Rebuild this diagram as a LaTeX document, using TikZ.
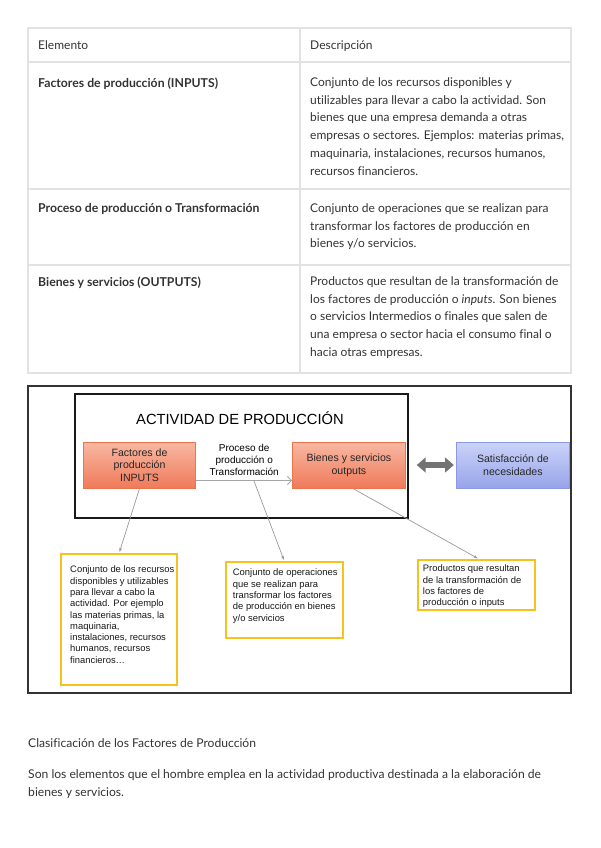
\documentclass[tikz,border=0pt]{standalone}
\usepackage{fontspec}
\setmainfont{Lato}[Ligatures=CommonOff]
\newfontfamily\arial{Liberation Sans}
\usetikzlibrary{arrows.meta,positioning}
\definecolor{texto}{HTML}{333333}
\definecolor{linea}{HTML}{E2E2E2}
\definecolor{naranja}{HTML}{E9754F}
\definecolor{naranjaA}{HTML}{F8B8A2}
\definecolor{naranjaB}{HTML}{F07A5A}
\definecolor{azul}{HTML}{8C99E0}
\definecolor{azulA}{HTML}{CBD3F8}
\definecolor{azulB}{HTML}{97A4EA}
\definecolor{amarillo}{HTML}{F5C31C}
\definecolor{conector}{HTML}{9A9A9A}

\begin{document}
\begin{tikzpicture}[
  x=0.85pt, y=-0.85pt,
  every node/.style={inner sep=0pt, anchor=north west, align=left},
  tabla/.style={draw=linea, line width=1.5pt},
  celda/.style={font=\fontsize{10.2}{15.1}\selectfont, text=texto},
  celdab/.style={celda, font=\fontsize{10.4}{15.1}\selectfont\bfseries},
  parrafo/.style={font=\fontsize{10.3}{15.3}\selectfont, text=texto},
  caja/.style={draw=naranja, line width=0.8pt, top color=naranjaA, bottom color=naranjaB,
    minimum width=95.6pt, minimum height=39.1pt, anchor=center, align=center,
    font=\arial\fontsize{9}{10.8}\selectfont, text=black!85},
  cajaazul/.style={caja, draw=azul, top color=azulA, bottom color=azulB},
  nota/.style={draw=amarillo, line width=1.6pt, fill=white},
  notatxt/.style={font=\arial\fontsize{8}{9.6}\selectfont, text=black!90},
  conector/.style={draw=conector, line width=0.6pt, shorten >=1pt, -{Stealth[length=3.5pt,width=2.6pt]}},
  >=Stealth
]
\useasboundingbox (0,0) rectangle (600,848);

\draw[tabla] (28,28) rectangle (571,373);
\draw[tabla] (300,28) -- (300,373);
\foreach \y in {62,189,265} \draw[tabla] (28,\y) -- (571,\y);

\node[celda] (encA) at (38,40.2) {Elemento};
\node[celda] (encB) at (310,40.2) {Descripción};
\node[celdab] (elemA) at (38,77.2) {Factores de producción (INPUTS)};
\node[celda] (descA) at (310,77.2) {Conjunto de los recursos disponibles y\\utilizables para llevar a cabo la actividad. Son\\bienes que una empresa demanda a otras\\empresas o sectores. Ejemplos: materias primas,\\maquinaria, instalaciones, recursos humanos,\\recursos financieros.};
\node[celdab] (elemB) at (38,203.2) {Proceso de producción o Transformación};
\node[celda] (descB) at (310,203.2) {Conjunto de operaciones que se realizan para\\transformar los factores de producción en\\bienes y/o servicios.};
\node[celdab] (elemC) at (38,276.2) {Bienes y servicios (OUTPUTS)};
\node[celda] (descC) at (310,276.2) {Productos que resultan de la transformación de\\los factores de producción o \textit{inputs}. Son bienes\\o servicios Intermedios o finales que salen de\\una empresa o sector hacia el consumo final o\\hacia otras empresas.};

\draw[line width=1.2pt, black!80] (28,386) rectangle (571,693);
\draw[line width=1.8pt, black!90] (75,394) rectangle (408,518);
\node[anchor=base, font=\arial\fontsize{12.5}{15}\selectfont] (titulo) at (240,424) {ACTIVIDAD DE PRODUCCIÓN};

\node[caja] (inputs) at (139.5,465) {Factores de\\producción\\INPUTS};
\node[caja, right=81.6pt of inputs] (outputs) {Bienes y servicios\\outputs};
\node[cajaazul, right=43pt of outputs] (satis) {Satisfacción de\\necesidades};

\draw[draw=black!35, line width=0.8pt, -{Straight Barb[length=3.5pt]}] ([yshift=6.8pt]inputs.south east) -- node[above=4pt, align=center, font=\arial\fontsize{8.5}{10}\selectfont] (proceso) {Proceso de\\producción o\\Transformación} coordinate[pos=0.6] (pProc) ([yshift=6.8pt]outputs.south west);
\draw[draw=black!55, line width=5.5pt, {Triangle[length=7.5pt,width=12.5pt]}-{Triangle[length=7.5pt,width=12.5pt]}, shorten <=9.5pt, shorten >=2pt] (outputs) -- (satis);

\node[nota, minimum width=99pt, minimum height=111.4pt] (notaIn) at (60,553) {};
\node[notatxt] (txtIn) at (70,565.8) {Conjunto de los recursos\\disponibles y utilizables\\para llevar a cabo la\\actividad. Por ejemplo\\las materias primas, la\\maquinaria,\\instalaciones, recursos\\humanos, recursos\\financieros…};
\node[nota, minimum width=99.2pt, minimum height=64.6pt] (notaProc) at (225,561) {};
\node[notatxt] (txtProc) at (232.7,568.8) {Conjunto de operaciones\\que se realizan para\\transformar los factores\\de producción en bienes\\y/o servicios};
\node[nota, minimum width=99.5pt, minimum height=42.5pt] (notaOut) at (417,559) {};
\node[notatxt] (txtOut) at (422.7,564.8) {Productos que resultan\\de la transformación de\\los factores de\\producción o inputs};

\draw[conector] (inputs.south) -- (notaIn.north);
\draw[conector] (pProc) -- (notaProc.north);
\draw[conector] ([xshift=3.4pt]outputs.south) -- ([xshift=2pt]notaOut.north);

\node[parrafo] (clasif) at (28,738.2) {Clasificación de los Factores de Producción};
\node[parrafo] (defin) at (28,769.2) {Son los elementos que el hombre emplea en la actividad productiva destinada a la elaboración de\\bienes y servicios.};
\end{tikzpicture}
\end{document}
